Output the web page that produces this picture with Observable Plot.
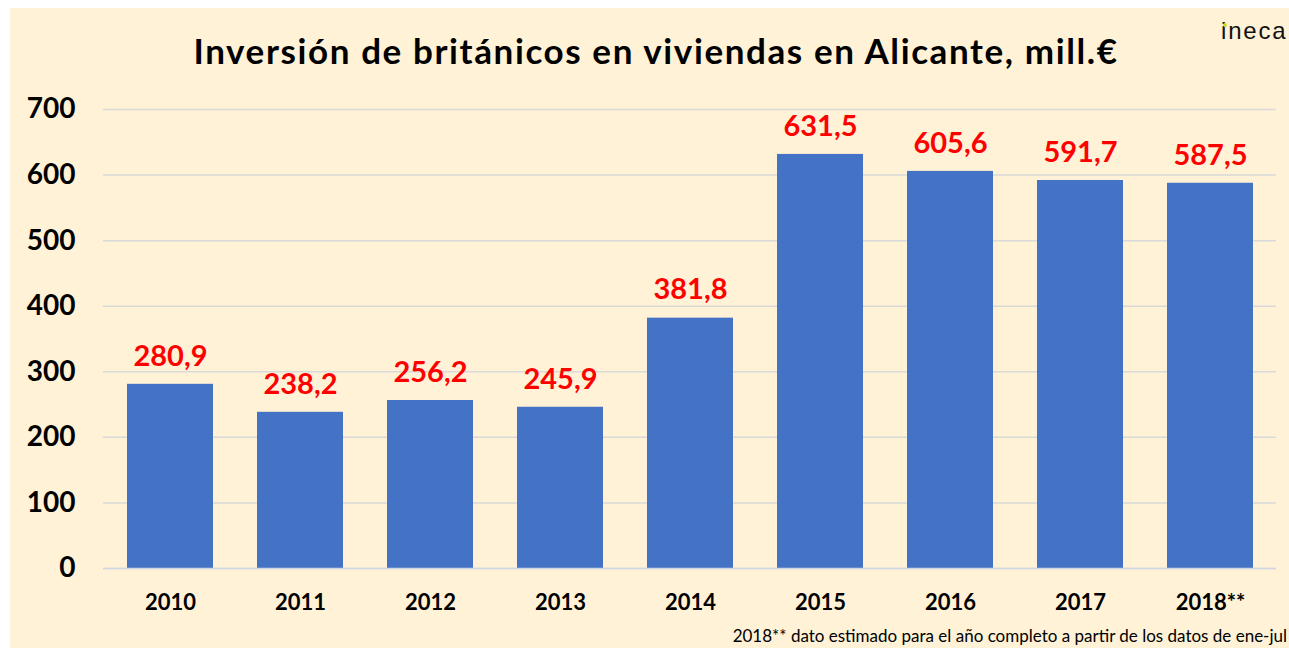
<!DOCTYPE html>
<html>
<head>
<meta charset="utf-8">
<script src="https://cdn.jsdelivr.net/npm/d3@7"></script>
<script src="https://cdn.jsdelivr.net/npm/@observablehq/plot@0.6"></script>
<style>
  html, body { margin: 0; padding: 0; background: #ffffff; }
  #wrap { position: relative; width: 1289px; height: 648px; overflow: hidden; background: #ffffff; font-family: Lato, "Open Sans", sans-serif; }
  #bg { position: absolute; left: 10px; top: 8px; right: 0; bottom: 0; background: #FFF2D6; }
  #title { position: absolute; left: 0; width: 1312px; top: 29px; text-align: center; font-weight: 700; font-size: 35px; letter-spacing: 1.6px; color: #000; }
  #logo { position: absolute; left: 1221px; top: 17px; font-size: 24px; color: #111; letter-spacing: 1.8px; font-family: "Liberation Sans", Arial, sans-serif; }
  #logo .dot { position: absolute; left: 1.5px; top: 5.5px; width: 4px; height: 4px; border-radius: 2px; background: #c8e020; }
  #note { position: absolute; right: 2px; top: 626px; font-size: 17px; line-height: 20px; color: #000; white-space: nowrap; }
  #chart { position: absolute; left: 0; top: 0; }
</style>
</head>
<body>
<div id="wrap">
  <div id="bg"></div>
  <div id="chart"></div>
  <div id="title">Inversión de británicos en viviendas en Alicante, mill.€</div>
  <div id="logo">ineca<span class="dot"></span></div>
  <div id="note">2018** dato estimado para el año completo a partir de los datos de ene-jul</div>
</div>
<script>
const years = ["2010", "2011", "2012", "2013", "2014", "2015", "2016", "2017", "2018**"];
const values = [280.9, 238.2, 256.2, 245.9, 381.8, 631.5, 605.6, 591.7, 587.5];
const yTicks = [0, 100, 200, 300, 400, 500, 600, 700];

const data = years.map((y, i) => ({year: y, value: values[i]}));
const fmt = v => v.toFixed(1).replace(".", ",");

const chart = Plot.plot({
  width: 1289,
  height: 648,
  marginLeft: 103,
  marginRight: 13,
  marginTop: 109,
  marginBottom: 80,
  style: {background: "transparent", fontFamily: "Lato, 'Open Sans', sans-serif", overflow: "visible"},
  x: {domain: years, paddingInner: 0.34, paddingOuter: 0.17, label: null},
  y: {domain: [0, 700], label: null},
  marks: [
    Plot.gridY(yTicks, {stroke: "#d9d9d9", strokeOpacity: 1, strokeWidth: 1.5}),
    Plot.barY(data, {x: "year", y: "value", fill: "#4472C4"}),
    Plot.ruleY([0], {stroke: "#d0d6e2", strokeWidth: 1.5}),
    Plot.text(data, {x: "year", y: "value", text: d => fmt(d.value), dy: -28, fill: "#ff0000", fontSize: 29, fontWeight: "bold"}),
    Plot.axisY(yTicks, {tickSize: 0, tickPadding: 28, fontSize: 28, fontWeight: "bold", fill: "#000", label: null}),
    Plot.axisX({tickSize: 0, tickPadding: 26, fontSize: 22, fontWeight: "bold", fill: "#000", label: null})
  ]
});
document.getElementById("chart").appendChild(chart);
</script>
</body>
</html>
